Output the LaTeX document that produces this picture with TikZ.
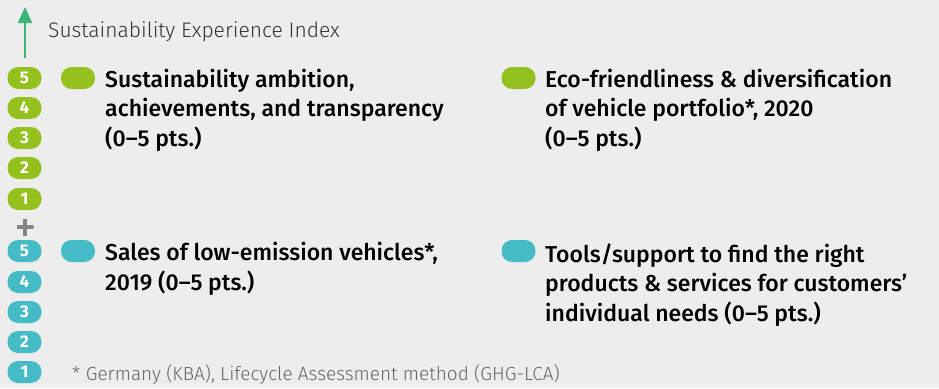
\documentclass[tikz,border=0pt]{standalone}
\usepackage{fontspec}
\setmainfont{Fira Sans}
\newfontfamily\medfont{Fira Sans Medium}
\newfontfamily\lightfont{Fira Sans Light}
\usetikzlibrary{arrows.meta}
\definecolor{bg}{HTML}{EDEDED}
\definecolor{lime}{HTML}{95C11F}
\definecolor{teal}{HTML}{45BCC5}
\definecolor{arrowgreen}{HTML}{3DB57A}
\definecolor{plusgray}{HTML}{858585}
\definecolor{titlegray}{HTML}{333333}
\definecolor{notegray}{HTML}{666666}
\tikzset{
  badge/.style={rounded corners=10.5pt, minimum width=34pt, minimum height=22pt, inner sep=0pt, text=white, font=\bfseries\fontsize{17}{17}\selectfont},
  pill/.style={rounded corners=10.5pt, minimum width=34pt, minimum height=22pt, inner sep=0pt},
  label/.style={anchor=base west, inner sep=0pt, align=left, text=black, font=\medfont\fontsize{23}{29.5}\selectfont},
  plussign/.style={minimum size=17pt, inner sep=0pt, path picture={
    \draw[plusgray, line width=3.5pt] (path picture bounding box.north) -- (path picture bounding box.south)
      (path picture bounding box.west) -- (path picture bounding box.east);}},
  axisarrow/.style={arrowgreen, line width=2pt, -{Triangle[length=16pt, width=14pt]}}
}
\begin{document}
\begin{tikzpicture}[x=1pt, y=-1pt]
\fill[bg] (0,0) rectangle (939,388);
\useasboundingbox (0,0) rectangle (939,388);
% axis
\coordinate (abot) at (25,58);
\coordinate (atop) at (25,7);
\draw[axisarrow] (abot) -- (atop);
\node[anchor=base west, inner sep=0pt, text=titlegray, font=\lightfont\fontsize{21}{21}\selectfont] (title) at (48,37) {Sustainability Experience Index};
% green scale
\foreach \n/\y in {5/78,4/108,3/138,2/168,1/199}{
  \node[badge, fill=lime] (g\n) at (24.5,\y) {\n};
}
\node[plussign] (plus) at (25,227) {};
\foreach \n/\y in {5/251,4/282,3/312,2/342,1/372}{
  \node[badge, fill=teal] (t\n) at (24.5,\y) {\n};
}
% legend
\node[pill, fill=lime] (p1) at (78,78) {};
\node[label] (l1) at (105,146) {Sustainability ambition,\\achievements, and transparency\\(0–5 pts.)};
\node[pill, fill=lime] (p2) at (518.5,78) {};
\node[label] (l2) at (545,146) {Eco-friendliness \& diversification\\of vehicle portfolio*, 2020\\(0–5 pts.)};
\node[pill, fill=teal] (p3) at (78,251) {};
\node[label] (l3) at (105,290) {Sales of low-emission vehicles*,\\2019 (0–5 pts.)};
\node[pill, fill=teal] (p4) at (518.5,251) {};
\node[label] (l4) at (545,321) {Tools/support to find the right\\products \& services for customers’\\individual needs (0–5 pts.)};
% footnote
\node[anchor=base west, inner sep=0pt, text=notegray, font=\lightfont\fontsize{19}{19}\selectfont] (note) at (72,380) {* Germany (KBA), Lifecycle Assessment method (GHG-LCA)};
\end{tikzpicture}
\end{document}
